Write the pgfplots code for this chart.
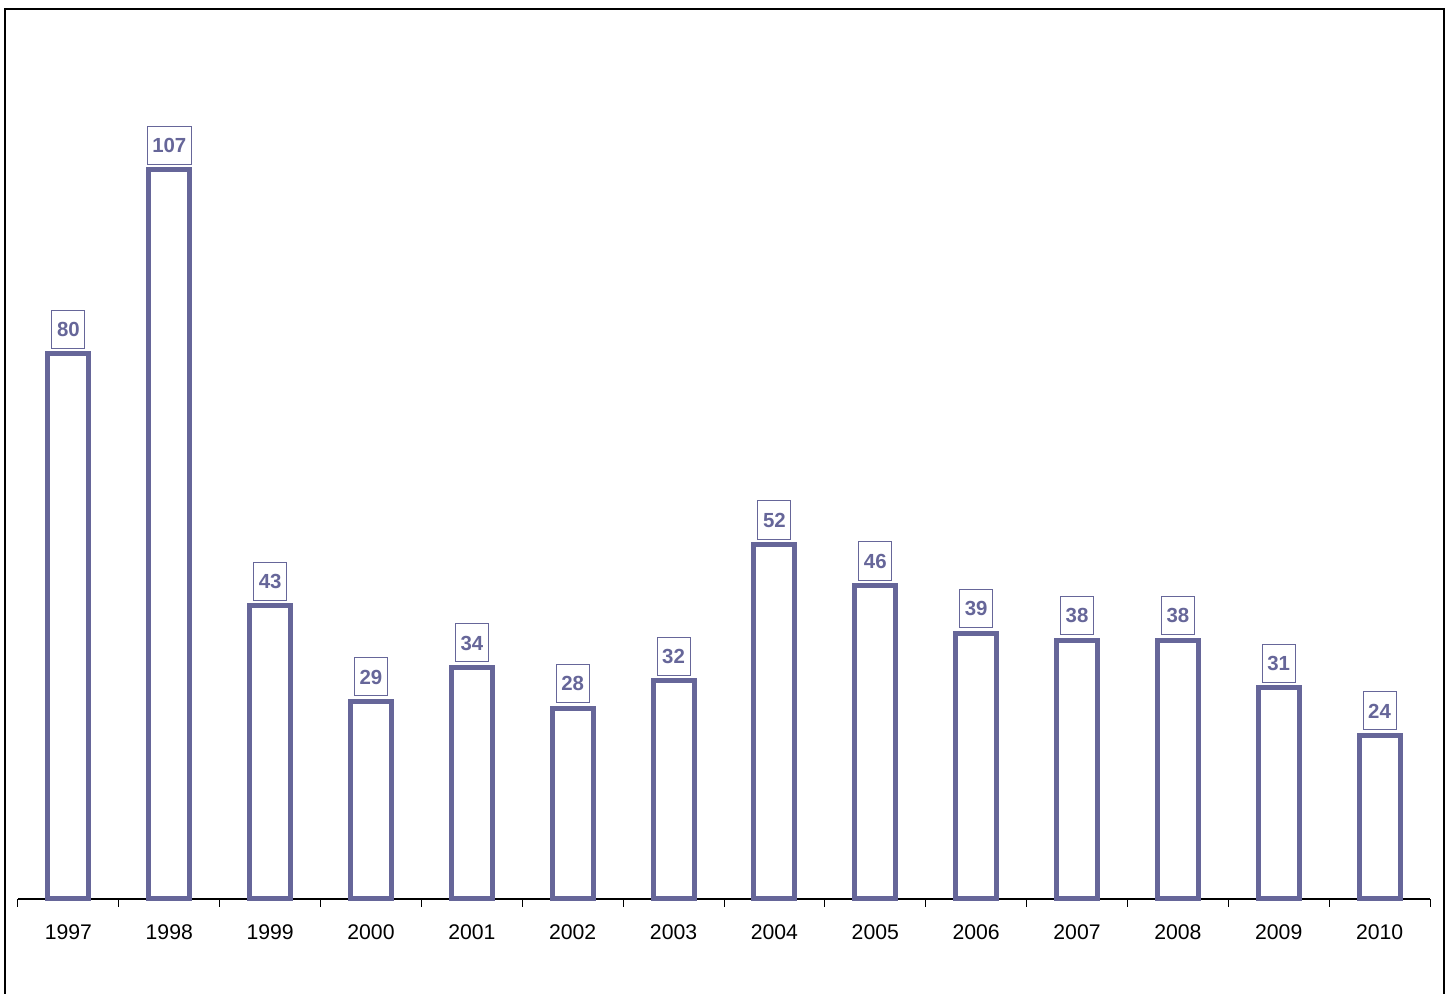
\documentclass[border=0pt]{standalone}
\usepackage{pgfplots}
\pgfplotsset{compat=1.18}
\usepackage{fontspec}
\setmainfont{Liberation Sans}
\definecolor{barcol}{RGB}{102,102,153}

\begin{document}
\begin{tikzpicture}
 \begin{axis}[
   scale only axis,
   width=706pt, height=400pt,
   xmin=-0.5, xmax=13.5,
   ymin=0, ymax=117.4,
   axis x line*=bottom,
   axis y line=none,
   clip=false,
   /pgf/number format/assume math mode=true,
   ybar, bar width=20.5pt,
   xtick={0,...,13},
   xticklabels={1997,1998,1999,2000,2001,2002,2003,2004,2005,2006,2007,2008,2009,2010},
   minor xtick={-0.5,0.5,...,13.5},
   major tick length=0pt, minor tick length=4pt,
   tick align=outside,
   tick style={black, line width=0.5pt},
   x axis line style={black, line width=0.6pt},
   xticklabel style={font=\fontsize{10.6}{12}\selectfont, text height=7.5pt, text depth=0pt, inner sep=0pt, yshift=-12.8pt},
   nodes near coords,
   every node near coord/.append style={draw=barcol, line width=0.5pt, fill=white,
     text=barcol, font=\bfseries\fontsize{10.2}{12}\selectfont,
     inner xsep=2.6pt, inner ysep=5.9pt, text height=7.3pt, text depth=0pt,
     anchor=south, yshift=2.5pt},
  ]
  \addplot [draw=barcol, fill=white, line width=2.5pt] coordinates {
   (0,80) (1,107) (2,43) (3,29) (4,34) (5,28) (6,32) (7,52) (8,46) (9,39) (10,38) (11,38) (12,31) (13,24)};
 \end{axis}
 \draw[line width=0.75pt, black] (-6.5pt,-60pt) -- (-6.5pt,445pt) -- (713pt,445pt) -- (713pt,-60pt);
 \pgfresetboundingbox
 \useasboundingbox (-9pt,-47.5pt) rectangle (716.5pt,449.5pt);
\end{tikzpicture}
\end{document}
